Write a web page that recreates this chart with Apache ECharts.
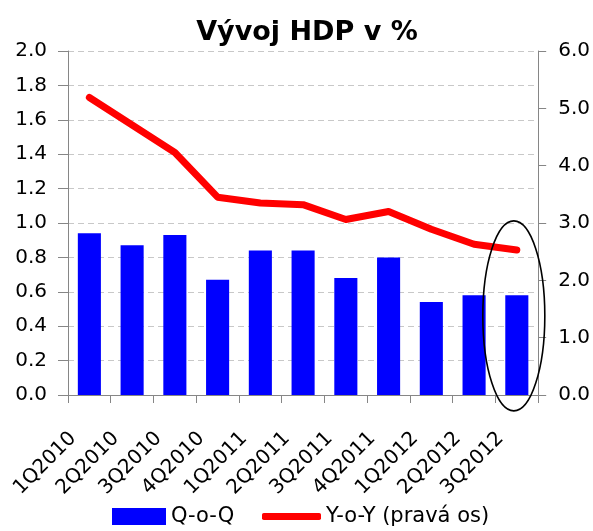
<!DOCTYPE html>
<html>
<head>
<meta charset="utf-8">
<script src="https://cdn.jsdelivr.net/npm/echarts@6/dist/echarts.min.js"></script>
<style>
  html, body { margin: 0; padding: 0; background: #fff; }
  #main { width: 593px; height: 531px; }
</style>
</head>
<body>
<div id="main"></div>
<script>
// data
var quarters = ['1Q2010', '2Q2010', '3Q2010', '4Q2010', '1Q2011', '2Q2011', '3Q2011', '4Q2011', '1Q2012', '2Q2012', '3Q2012'];
var qoq = [0.94, 0.87, 0.93, 0.67, 0.84, 0.84, 0.68, 0.80, 0.54, 0.58, 0.58];
var yoy = [5.19, 4.71, 4.23, 3.45, 3.35, 3.32, 3.06, 3.20, 2.89, 2.63, 2.53];
var highlightQuarter = '3Q2012';

var FONT = 'DejaVu Sans';
var chart = echarts.init(document.getElementById('main'));

var option = {
    backgroundColor: '#fff',
    animation: false,
    title: {
        text: 'Vývoj HDP v %',
        left: 302,
        textAlign: 'center',
        top: 14,
        textStyle: { fontFamily: FONT, fontSize: 27, fontWeight: 'bold', color: '#000' }
    },
    legend: [{
        data: ['Q-o-Q'],
        left: 107,
        top: 501,
        icon: 'rect',
        itemWidth: 54,
        itemHeight: 17,
        textStyle: { fontFamily: FONT, fontSize: 21, color: '#000' }
    }, {
        data: ['Y-o-Y (pravá os)'],
        left: 257,
        top: 501,
        icon: 'roundRect',
        itemWidth: 59,
        itemHeight: 7,
        textStyle: { fontFamily: FONT, fontSize: 21, color: '#000' }
    }],
    grid: { left: 68, right: 54, top: 51, bottom: 136 },
    xAxis: {
        type: 'category',
        data: quarters,
        boundaryGap: true,
        axisLine: { lineStyle: { color: '#868686', width: 1 } },
        axisTick: { show: true, length: 8, lineStyle: { color: '#868686' } },
        axisLabel: {
            rotate: 45,
            margin: 24,
            padding: [0, 23, 0, 0],
            interval: 0,
            fontFamily: FONT,
            fontSize: 20,
            color: '#000'
        }
    },
    yAxis: [{
        type: 'value',
        min: 0,
        max: 2,
        interval: 0.2,
        axisLine: { show: true, lineStyle: { color: '#868686' } },
        axisTick: { show: true, length: 10, lineStyle: { color: '#868686' } },
        splitLine: { show: true, lineStyle: { color: '#c8c8c8', type: [6, 4], width: 1 } },
        axisLabel: {
            margin: 21,
            fontFamily: FONT,
            fontSize: 20,
            color: '#000',
            formatter: function (v) { return v.toFixed(1); }
        }
    }, {
        type: 'value',
        position: 'right',
        min: 0,
        max: 6,
        interval: 1,
        axisLine: { show: true, lineStyle: { color: '#868686' } },
        axisTick: { show: true, length: 8, lineStyle: { color: '#868686' } },
        splitLine: { show: false },
        axisLabel: {
            margin: 20,
            fontFamily: FONT,
            fontSize: 20,
            color: '#000',
            formatter: function (v) { return v.toFixed(1); }
        }
    }],
    series: [{
        name: 'Q-o-Q',
        type: 'bar',
        yAxisIndex: 0,
        barWidth: '54%',
        itemStyle: { color: '#0000ff' },
        data: qoq
    }, {
        name: 'Y-o-Y (pravá os)',
        type: 'line',
        yAxisIndex: 1,
        symbol: 'none',
        itemStyle: { color: '#ff0000' },
        lineStyle: { color: '#ff0000', width: 7, cap: 'round', join: 'round' },
        data: yoy,
        z: 3
    }]
};
chart.setOption(option);

// ellipse round the last quarter
var cx = chart.convertToPixel({ xAxisIndex: 0 }, highlightQuarter) - 3;
var yTop = chart.convertToPixel({ yAxisIndex: 0 }, 2.0);
var yBot = chart.convertToPixel({ yAxisIndex: 0 }, 0);
var cy = yTop + (yBot - yTop) * 0.77;
chart.setOption({
    graphic: [{
        type: 'ellipse',
        shape: { cx: cx, cy: cy, rx: 31, ry: 95 },
        style: { fill: 'none', stroke: '#000', lineWidth: 1.6 },
        z: 100
    }]
});
</script>
</body>
</html>
